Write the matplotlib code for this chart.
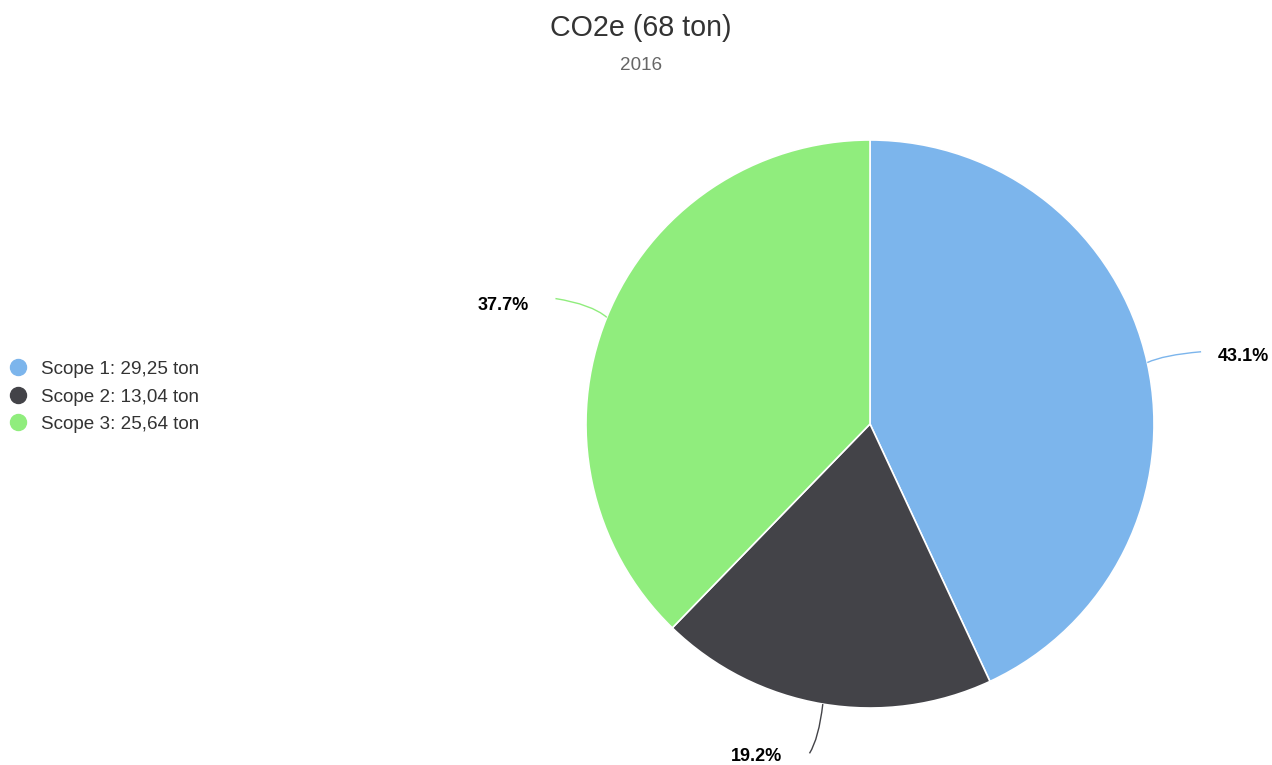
import numpy as np
import matplotlib
matplotlib.use("Agg")
import matplotlib.pyplot as plt
from matplotlib.path import Path
from matplotlib.patches import PathPatch

plt.rcParams['font.family'] = ['Liberation Sans', 'DejaVu Sans']

categories = ["Scope 1", "Scope 2", "Scope 3"]
values = [29.25, 13.04, 25.64]
legend_labels = ["Scope 1: 29,25 ton", "Scope 2: 13,04 ton", "Scope 3: 25,64 ton"]
colors = ["#7cb5ec", "#434348", "#90ed7d"]
title = "CO2e (68 ton)"
subtitle = "2016"

W, H = 1272, 765
fig = plt.figure(figsize=(W / 100, H / 100), dpi=100)
ax = fig.add_axes([0, 0, 1, 1])

cx, cy, r = 870, H - 424, 284
ax.pie(values, colors=colors, startangle=90, counterclock=False,
       center=(cx, cy), radius=r, frame=True,
       wedgeprops=dict(edgecolor="white", linewidth=1.2))
ax.set_xlim(0, W)
ax.set_ylim(0, H)
ax.set_aspect("equal")
ax.axis("off")

total = sum(values)
cum = 0.0
for v, c in zip(values, colors):
    frac = v / total
    mid = (cum + frac / 2) * 2 * np.pi  # clockwise from top
    cum += frac
    sx, sy = np.sin(mid), np.cos(mid)
    side = 1 if sx >= 0.5 else -1
    p0 = (cx + r * sx, cy + r * sy)
    p2 = (cx + (r + 50) * sx + 5 * side, cy + (r + 50) * sy)
    ctrl = (p0[0] + 0.3 * (p2[0] - p0[0]), p0[1] + 0.7 * (p2[1] - p0[1]))
    path = Path([p0, ctrl, p2], [Path.MOVETO, Path.CURVE3, Path.CURVE3])
    ax.add_patch(PathPatch(path, facecolor="none", edgecolor=c, lw=1.0))
    label = f"{100 * frac:.1f}%"
    if side > 0:
        ax.text(p2[0] + 17, p2[1] - 5, label, ha="left", va="center",
                fontsize=13, fontweight="bold", color="black")
    else:
        dy = -7 if sy > 0 else -3
        ax.text(p2[0] - 27, p2[1] + dy, label, ha="right", va="center",
                fontsize=13, fontweight="bold", color="black")

fig.text(641 / W, 1 - 28 / H, title, ha="center", va="center",
         fontsize=20.6, color="#333333")
fig.text(641 / W, 1 - 65 / H, subtitle, ha="center", va="center",
         fontsize=13.6, color="#666666")

ys = [367, 395, 422]
for lab, c, y in zip(legend_labels, colors, ys):
    ax.scatter([18], [H - y], s=16 ** 2 * 0.72 ** 2, color=c, zorder=5)
    ax.text(41, H - y - 2, lab, ha="left", va="center", fontsize=13.6,
            color="#333333")

fig.savefig("out.png", dpi=100, facecolor="white")
